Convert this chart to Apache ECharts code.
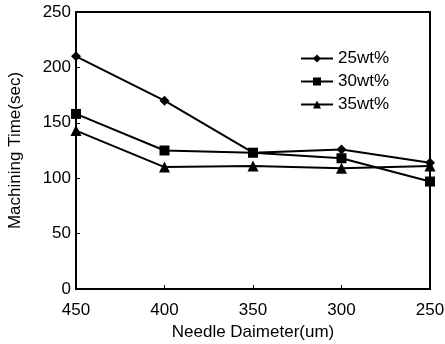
<!DOCTYPE html>
<html>
<head>
<meta charset="utf-8">
<script src="https://cdn.jsdelivr.net/npm/echarts@6/dist/echarts.min.js"></script>
<style>
  html, body { margin: 0; padding: 0; background: #fff; }
  #chart { width: 445px; height: 344px; }
</style>
</head>
<body>
<div id="chart"></div>
<script>
const diameters = [450, 400, 350, 300, 250];
const s25 = [210, 170, 123, 126, 114];
const s30 = [158, 125, 123, 118, 97];
const s35 = [143, 110, 111, 109, 111];
const seriesNames = ["25wt%", "30wt%", "35wt%"];

const font = "Liberation Sans, Arial, sans-serif";
const chart = echarts.init(document.getElementById("chart"), undefined, { renderer: "canvas" });

const pairs = (vals) => diameters.map((d, i) => [d, vals[i]]);
const lineSeries = (name, vals, symbol, size) => ({
  name,
  type: "line",
  data: pairs(vals),
  symbol,
  symbolSize: size,
  lineStyle: { color: "#000", width: 2 },
  itemStyle: { color: "#000" },
});

chart.setOption({
  backgroundColor: "#fff",
  animation: false,
  grid: { left: 76, right: 15, top: 12, bottom: 55, containLabel: false, outerBoundsMode: "none" },
  legend: {
    data: seriesNames,
    orient: "vertical",
    left: 295,
    top: 45,
    itemWidth: 32,
    itemHeight: 10,
    itemGap: 6,
    textStyle: { color: "#000", fontSize: 17, fontFamily: font },
  },
  xAxis: {
    type: "value",
    inverse: true,
    min: 250,
    max: 450,
    interval: 50,
    name: "Needle Daimeter(um)",
    nameLocation: "middle",
    nameGap: 35,
    nameTextStyle: { color: "#000", fontSize: 17, fontFamily: font },
    axisLine: { show: true, lineStyle: { color: "#000", width: 2 } },
    axisTick: { show: true, inside: true, length: 4, lineStyle: { color: "#000" } },
    axisLabel: { color: "#000", fontSize: 17, fontFamily: font, margin: 13 },
    splitLine: { show: false },
  },
  yAxis: {
    type: "value",
    min: 0,
    max: 250,
    interval: 50,
    name: "Machining Time(sec)",
    nameLocation: "middle",
    nameGap: 52,
    nameTextStyle: { color: "#000", fontSize: 17, fontFamily: font },
    axisLine: { show: true, lineStyle: { color: "#000", width: 2 } },
    axisTick: { show: true, inside: true, length: 4, lineStyle: { color: "#000" } },
    axisLabel: { color: "#000", fontSize: 17, fontFamily: font, margin: 5 },
    splitLine: { show: false },
  },
  graphic: [],
  series: [
    lineSeries(seriesNames[0], s25, "diamond", 10),
    lineSeries(seriesNames[1], s30, "rect", 10),
    lineSeries(seriesNames[2], s35, "triangle", 11),
  ],
});

// frame around the plot area
const r = chart.getModel().getComponent("grid").coordinateSystem.getRect();
chart.setOption({
  graphic: [{
    type: "rect",
    shape: { x: r.x, y: r.y, width: r.width, height: r.height },
    style: { fill: null, stroke: "#000", lineWidth: 2 },
    silent: true,
  }],
});
</script>
</body>
</html>
